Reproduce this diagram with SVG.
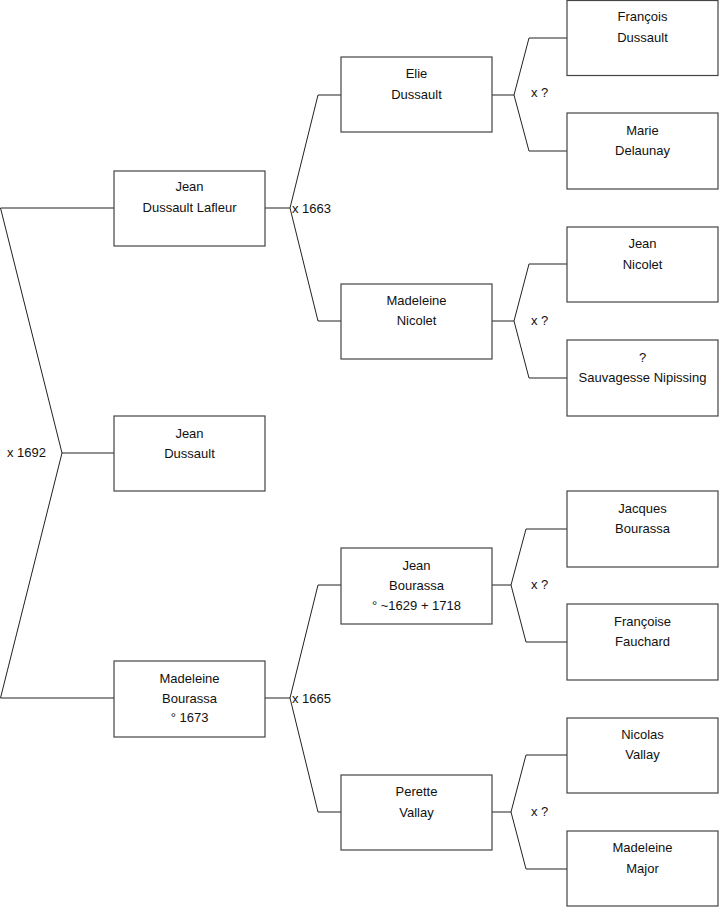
<svg xmlns="http://www.w3.org/2000/svg" width="719" height="908" viewBox="0 0 719 908">
<style>
.box{fill:#fff;stroke:#444;stroke-width:1.2}
.ln{fill:none;stroke:#222;stroke-width:1}
text{font-family:"Liberation Sans",Arial,sans-serif;font-size:13px;fill:#111}
.c{text-anchor:middle}
</style>
<rect width="719" height="908" fill="#fff"/>
<g id="connectors">
<polyline class="ln" points="114,208 0.5,208 62,453 0.5,698 114,698"/>
<line class="ln" x1="62" y1="453" x2="114" y2="453"/>
<polyline class="ln" points="341,95 318,95 290,208 318,321 341,321"/>
<line class="ln" x1="265" y1="208" x2="290" y2="208"/>
<polyline class="ln" points="341,585 318,585 290,698 318,812 341,812"/>
<line class="ln" x1="265" y1="698" x2="290" y2="698"/>
<polyline class="ln" points="567,38 529,38 514,95 529,151 567,151"/>
<line class="ln" x1="492" y1="95" x2="514" y2="95"/>
<polyline class="ln" points="567,264 529,264 514,321 529,378 567,378"/>
<line class="ln" x1="492" y1="321" x2="514" y2="321"/>
<polyline class="ln" points="567,529 526,529 511,585 526,642 567,642"/>
<line class="ln" x1="492" y1="585" x2="511" y2="585"/>
<polyline class="ln" points="567,755 526,755 511,812 526,869 567,869"/>
<line class="ln" x1="492" y1="812" x2="511" y2="812"/>
<text x="7" y="456.5">x 1692</text>
<text x="292" y="212.5">x 1663</text>
<text x="292" y="702.5">x 1665</text>
<text x="531" y="96.5">x ?</text>
<text x="531" y="324.5">x ?</text>
<text x="531" y="588.5">x ?</text>
<text x="531" y="815.5">x ?</text>
</g>
<g id="n_jean_dussault_lafleur"><rect class="box" x="114" y="171" width="151" height="75"/><text class="c" x="189.5" y="190.5">Jean</text><text class="c" x="189.5" y="211.5">Dussault Lafleur</text></g>
<g id="n_jean_dussault"><rect class="box" x="114" y="416" width="151" height="75"/><text class="c" x="189.5" y="437.5">Jean</text><text class="c" x="189.5" y="457.5">Dussault</text></g>
<g id="n_madeleine_bourassa"><rect class="box" x="114" y="661" width="151" height="76"/><text class="c" x="189.5" y="682.5">Madeleine</text><text class="c" x="189.5" y="702.5">Bourassa</text><text class="c" x="189.5" y="721.5">° 1673</text></g>
<g id="n_elie_dussault"><rect class="box" x="341" y="57" width="151" height="75"/><text class="c" x="416.5" y="77.5">Elie</text><text class="c" x="416.5" y="98.5">Dussault</text></g>
<g id="n_madeleine_nicolet"><rect class="box" x="341" y="284" width="151" height="75"/><text class="c" x="416.5" y="304.5">Madeleine</text><text class="c" x="416.5" y="324.5">Nicolet</text></g>
<g id="n_jean_bourassa"><rect class="box" x="341" y="548" width="151" height="76"/><text class="c" x="416.5" y="569.5">Jean</text><text class="c" x="416.5" y="589.5">Bourassa</text><text class="c" x="416.5" y="609.5">° ~1629 + 1718</text></g>
<g id="n_perette_vallay"><rect class="box" x="341" y="775" width="151" height="75"/><text class="c" x="416.5" y="795.5">Perette</text><text class="c" x="416.5" y="816.5">Vallay</text></g>
<g id="n_francois_dussault"><rect class="box" x="567" y="0.5" width="151" height="75"/><text class="c" x="642.5" y="20.5">François</text><text class="c" x="642.5" y="41.5">Dussault</text></g>
<g id="n_marie_delaunay"><rect class="box" x="567" y="113" width="151" height="76"/><text class="c" x="642.5" y="134.5">Marie</text><text class="c" x="642.5" y="154.5">Delaunay</text></g>
<g id="n_jean_nicolet"><rect class="box" x="567" y="227" width="151" height="75"/><text class="c" x="642.5" y="247.5">Jean</text><text class="c" x="642.5" y="268.5">Nicolet</text></g>
<g id="n_sauvagesse"><rect class="box" x="567" y="340" width="151" height="76"/><text class="c" x="642.5" y="361.5">?</text><text class="c" x="642.5" y="381.5">Sauvagesse Nipissing</text></g>
<g id="n_jacques_bourassa"><rect class="box" x="567" y="491" width="151" height="76"/><text class="c" x="642.5" y="512.5">Jacques</text><text class="c" x="642.5" y="532.5">Bourassa</text></g>
<g id="n_francoise_fauchard"><rect class="box" x="567" y="604" width="151" height="76"/><text class="c" x="642.5" y="625.5">Françoise</text><text class="c" x="642.5" y="645.5">Fauchard</text></g>
<g id="n_nicolas_vallay"><rect class="box" x="567" y="718" width="151" height="75"/><text class="c" x="642.5" y="738.5">Nicolas</text><text class="c" x="642.5" y="758.5">Vallay</text></g>
<g id="n_madeleine_major"><rect class="box" x="567" y="831" width="151" height="75"/><text class="c" x="642.5" y="851.5">Madeleine</text><text class="c" x="642.5" y="872.5">Major</text></g>
</svg>
